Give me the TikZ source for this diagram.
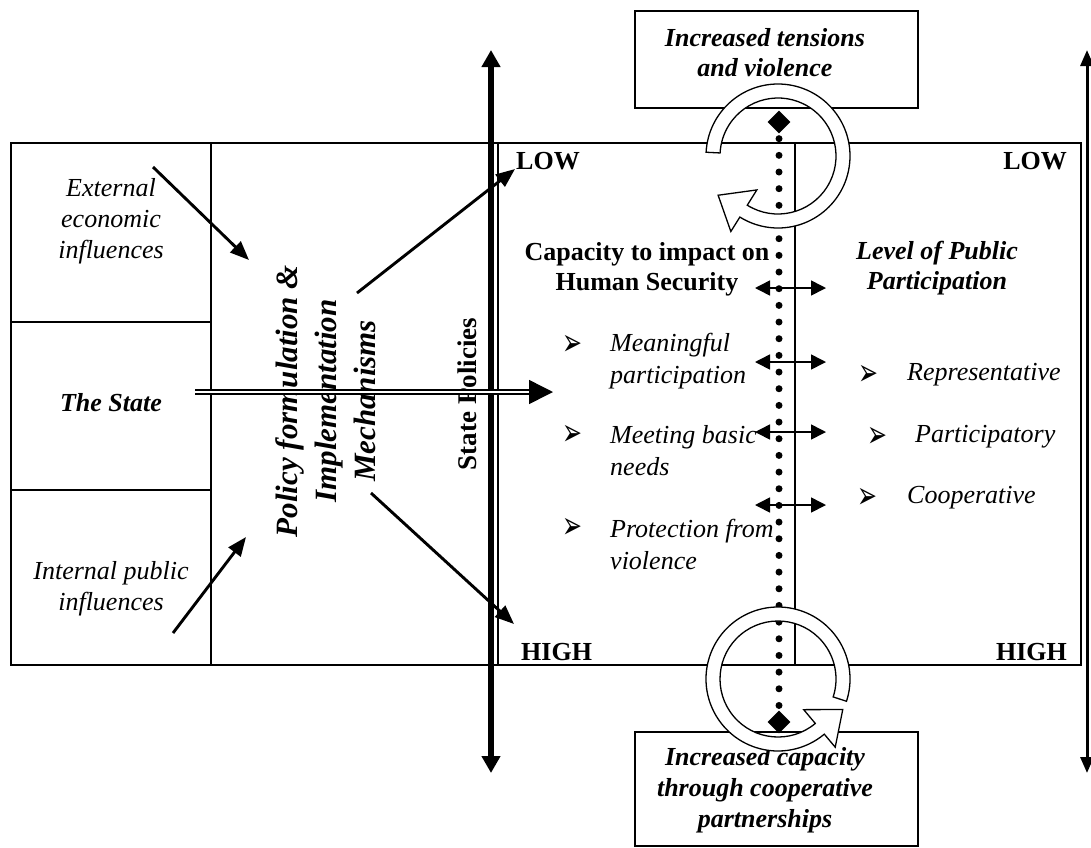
\documentclass[tikz,border=0pt]{standalone}
\usepackage{fontspec}
\setmainfont{Liberation Serif}
\newfontfamily\dejavu{DejaVu Sans}
\usetikzlibrary{arrows.meta,shapes.geometric,calc}
\newcommand{\bulletglyph}{\scalebox{0.85}[1.35]{\dejavu ➢}}
\begin{document}
\begin{tikzpicture}[x=1pt,y=-1pt,
  frame/.style={line width=1.8pt},
  thinline/.style={line width=1.5pt},
  itx/.style={font=\fontsize{26}{31}\selectfont\itshape, align=center, inner sep=0pt},
  bfx/.style={font=\fontsize{26}{30}\selectfont\bfseries, align=center, inner sep=0pt},
  bix/.style={font=\fontsize{26}{30}\selectfont\bfseries\itshape, align=center, inner sep=0pt},
  itemx/.style={font=\fontsize{26}{32}\selectfont\itshape, align=left, anchor=west, inner sep=0pt},
  bul/.style={font=\fontsize{28}{34}\selectfont, inner sep=0pt},
  diag/.style={line width=2.9pt, -{Triangle[length=19pt,width=15pt]}},
  dblarrow/.style={line width=1.6pt, {Triangle[length=15pt,width=15pt]}-{Triangle[length=15pt,width=15pt]}},
  band/.style={fill=white, draw=black, line width=1.3pt},
  dia/.style={diamond, fill=black, inner sep=0pt, minimum width=23pt, minimum height=23pt},
  boxx/.style={draw, line width=1.5pt, anchor=north west, inner sep=0pt}
]
\useasboundingbox (0,0) rectangle (1091,847);

% main frame
\draw[frame] (11,143) rectangle (1081,665);
\draw[frame] (211,143) -- (211,665);
\draw[frame] (11,322) -- (211,322);
\draw[frame] (11,490) -- (211,490);
\draw[thinline] (498,143) -- (498,665);
\draw[thinline] (795,143) -- (795,665);

% left column texts
\node[itx] (ext) at (111,221) {External\\economic\\influences};
\node[bix] (state) at (111,403) {The State};
\node[itx] (int) at (111,589) {Internal public\\influences};

% policy text
\node[font=\fontsize{31}{39}\selectfont\bfseries\itshape, align=center, inner sep=0pt, rotate=90] (policy) at (326,401) {Policy formulation \&\\Implementation\\Mechanisms};
\node[font=\fontsize{27}{30}\selectfont\bfseries, inner sep=0pt, rotate=90] (sp) at (467,394) {State Policies};

% vertical arrows
\coordinate (spT) at (491,50); \coordinate (spB) at (491,773);
\draw[line width=6pt, {Triangle[length=17pt,width=18pt]}-{Triangle[length=17pt,width=18pt]}] (spT) -- (spB);
\coordinate (rT) at (1087,50); \coordinate (rB) at (1087,773);
\draw[line width=3pt, {Triangle[length=16pt,width=13pt]}-{Triangle[length=16pt,width=13pt]}] (rT) -- (rB);

% the state double arrow
\coordinate (stS) at (195,392); \coordinate (stE) at (553,392);
\draw[double, double distance=2.5pt, line width=1.5pt, -{Triangle[length=24pt,width=24pt]}] (stS) -- (stE);

% diagonal arrows
\coordinate (e1) at (153,167); \coordinate (e2) at (249,260);
\coordinate (i1) at (173,633); \coordinate (i2) at (246,537);
\coordinate (l1) at (357,293); \coordinate (l2) at (515,169);
\coordinate (h1) at (371,493); \coordinate (h2) at (514,624);
\draw[diag] (e1) -- (e2);
\draw[diag] (i1) -- (i2);
\draw[diag] (l1) -- (l2);
\draw[diag] (h1) -- (h2);

% LOW / HIGH
\node[bfx, anchor=west] (lowL) at (516,161) {LOW};
\node[bfx, anchor=east] (lowR) at (1067,161) {LOW};
\node[bfx, anchor=west] (highL) at (521,652) {HIGH};
\node[bfx, anchor=east] (highR) at (1067,652) {HIGH};

% headings
\node[bfx] (cap) at (647,269) {Capacity to impact on\\Human Security};
\node[bix] (lev) at (937,268) {Level of Public\\Participation};

% left items
\node[bul] (b1) at (572,345) {\bulletglyph};
\node[bul] (b2) at (572,435) {\bulletglyph};
\node[bul] (b3) at (572,528) {\bulletglyph};
\node[itemx] (m1) at (610,361) {Meaningful\\participation};
\node[itemx] (m2) at (610,451) {Meeting basic\\needs};
\node[itemx] (m3) at (610,544) {Protection from\\violence};

% right items
\node[bul] (r1) at (868,375) {\bulletglyph};
\node[bul] (r2) at (877,437) {\bulletglyph};
\node[bul] (r3) at (867,498) {\bulletglyph};
\node[itemx] (p1) at (907,375) {Representative};
\node[itemx] (p2) at (915,437) {Participatory};
\node[itemx] (p3) at (907,498) {Cooperative};

% dotted axis
\coordinate (cT) at (779,122); \coordinate (cB) at (779,722);
\draw[line width=7pt, line cap=round, dash pattern=on 0pt off 16.67pt] (cT) -- (cB);

% small double arrows
\foreach \yy/\nm in {288/a, 362/b, 432/c, 505/d} {
  \coordinate (\nm l) at (755,\yy); \coordinate (\nm r) at (826,\yy);
  \draw[dblarrow] (\nm l) -- (\nm r);
}

% top and bottom boxes
\node[boxx, minimum width=283pt, minimum height=97pt] (tbox) at (634,10) {};
\node[bix] (ttxt) at (765,53) {Increased tensions\\and violence};
\node[boxx, minimum width=283pt, minimum height=114pt] (bbox) at (634,731) {};
\node[bix, font=\fontsize{26}{31}\selectfont\bfseries\itshape] (btxt) at (765,790) {Increased capacity\\through cooperative\\partnerships};

% circular arrows
\begin{scope}[shift={(778,156)}, yscale=-1]
  \path[band] (177:72) arc[start angle=177, end angle=-122, radius=72]
    -- (-122:89) -- ($(-122:65)+(-212:30)$) -- (-122:40)
    -- (-122:58) arc[start angle=-122, end angle=177, radius=58] -- cycle;
\end{scope}
\begin{scope}[shift={(778,679)}, yscale=-1]
  \path[band] (-18:72) arc[start angle=-18, end angle=310, radius=72]
    -- (310:89) -- ($(310:65)+(40:30)$) -- (310:40)
    -- (310:58) arc[start angle=310, end angle=-18, radius=58] -- cycle;
\end{scope}

% diamonds
\node[dia] (dT) at (cT) {};
\node[dia] (dB) at (cB) {};
\end{tikzpicture}
\end{document}
